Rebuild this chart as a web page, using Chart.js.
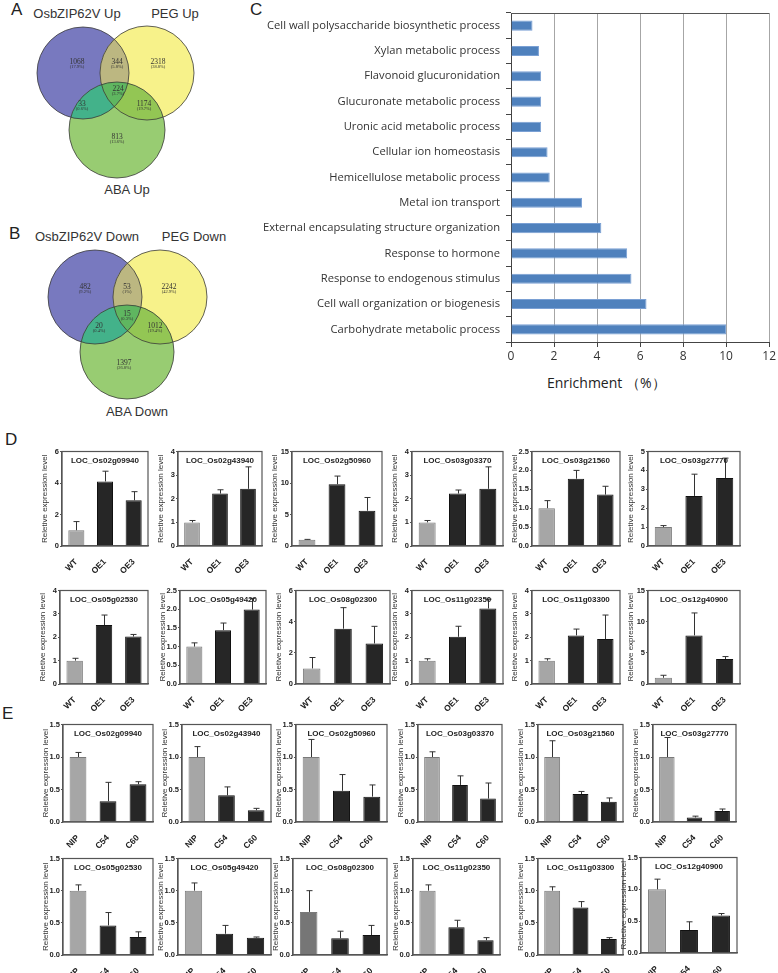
<!DOCTYPE html>
<html>
<head>
<meta charset="utf-8">
<script src="https://cdn.jsdelivr.net/npm/chart.js@4.4.1/dist/chart.umd.min.js"></script>
<style>
  html, body { margin: 0; padding: 0; background: #fff; }
  #page { position: relative; width: 778px; height: 973px; overflow: hidden; font-family: 'Liberation Sans', Arial, sans-serif; }
  canvas { position: absolute; }
  .lbl { position: absolute; white-space: nowrap; color: #333; }
  .big { font-size: 17px; color: #222; }
  .vt { font-size: 13px; transform: translateX(-50%); }
</style>
</head>
<body>
<div id="page">
  <div class="lbl big" style="left:11px;top:0px;">A</div>
  <div class="lbl big" style="left:9px;top:224px;">B</div>
  <div class="lbl big" style="left:250px;top:0px;">C</div>
  <div class="lbl big" style="left:5px;top:430px;">D</div>
  <div class="lbl big" style="left:2px;top:704px;">E</div>

  <div class="lbl vt" style="left:77px;top:6px;">OsbZIP62V Up</div>
  <div class="lbl vt" style="left:175px;top:6px;">PEG Up</div>
  <div class="lbl vt" style="left:127px;top:182px;">ABA Up</div>
  <div class="lbl vt" style="left:87px;top:229px;">OsbZIP62V Down</div>
  <div class="lbl vt" style="left:194px;top:229px;">PEG Down</div>
  <div class="lbl vt" style="left:137px;top:404px;">ABA Down</div>

  <div class="lbl" style="left:547px;top:373px;font-size:14px;font-family:'Open Sans',sans-serif;color:#222;">Enrichment （%）</div>
</div>

<script>
// ---- Venn counts (A: up-regulated, B: down-regulated) ----
// region order: P only, P&Y, Y only, P&Y&G, P&G, Y&G, G only
const vennUpCounts = [1068, 344, 2318, 224, 33, 1174, 813];
const vennUpPct = ['(17.9%)', '(5.8%)', '(38.8%)', '(3.7%)', '(0.6%)', '(19.7%)', '(13.6%)'];
const vennDownCounts = [482, 53, 2242, 15, 20, 1012, 1397];
const vennDownPct = ['(9.2%)', '(1%)', '(42.9%)', '(0.3%)', '(0.4%)', '(19.4%)', '(26.8%)'];

// ---- GO enrichment (C) ----
const goTerms = [
  'Cell wall polysaccharide biosynthetic process',
  'Xylan metabolic process',
  'Flavonoid glucuronidation',
  'Glucuronate metabolic process',
  'Uronic acid metabolic process',
  'Cellular ion homeostasis',
  'Hemicellulose metabolic process',
  'Metal ion transport',
  'External encapsulating structure organization',
  'Response to hormone',
  'Response to endogenous stimulus',
  'Cell wall organization or biogenesis',
  'Carbohydrate metabolic process'
];
const goEnrichment = [1.0, 1.3, 1.4, 1.4, 1.4, 1.7, 1.8, 3.3, 4.2, 5.4, 5.6, 6.3, 10.0];
const goTicks = [0, 12, 2];

// ---- qRT-PCR (D: overexpression lines) ----
const dGenes = ['LOC_Os02g09940', 'LOC_Os02g43940', 'LOC_Os02g50960', 'LOC_Os03g03370', 'LOC_Os03g21560', 'LOC_Os03g27770',
                'LOC_Os05g02530', 'LOC_Os05g49420', 'LOC_Os08g02300', 'LOC_Os11g02350', 'LOC_Os11g03300', 'LOC_Os12g40900'];
const dLines = ['WT', 'OE1', 'OE3'];
const dMeans = [[1.0, 4.1, 2.9], [1.0, 2.22, 2.42], [1.0, 9.8, 5.6], [1.0, 2.22, 2.42], [1.0, 1.78, 1.36], [1.0, 2.65, 3.6],
                [1.0, 2.52, 2.03], [1.0, 1.44, 1.99], [1.0, 3.55, 2.6], [1.0, 2.02, 3.23], [1.0, 2.08, 1.92], [1.0, 7.8, 4.0]];
const dErr = [[0.55, 0.65, 0.55], [0.08, 0.16, 0.93], [0.05, 1.3, 2.1], [0.08, 0.15, 0.93], [0.2, 0.22, 0.22], [0.08, 1.15, 1.05],
              [0.1, 0.43, 0.09], [0.1, 0.19, 0.3], [0.7, 1.35, 1.1], [0.08, 0.45, 0.4], [0.08, 0.27, 1.03], [0.4, 3.6, 0.4]];
const dYMax = [6, 4, 15, 4, 2.5, 5, 4, 2.5, 6, 4, 4, 15];
const dYStep = [2, 1, 5, 1, 0.5, 1, 1, 0.5, 2, 1, 1, 5];

// ---- qRT-PCR (E: mutant lines) ----
const eGenes = dGenes;
const eLines = ['NIP', 'C54', 'C60'];
const eMeans = [[1.0, 0.32, 0.58], [1.0, 0.41, 0.18], [1.0, 0.48, 0.39], [1.0, 0.57, 0.36], [1.0, 0.43, 0.31], [1.0, 0.07, 0.17],
                [1.0, 0.46, 0.28], [1.0, 0.33, 0.27], [0.67, 0.26, 0.31], [1.0, 0.43, 0.23], [1.0, 0.74, 0.25], [1.0, 0.36, 0.59]];
const eErr = [[0.07, 0.29, 0.04], [0.16, 0.13, 0.03], [0.27, 0.25, 0.18], [0.08, 0.14, 0.24], [0.25, 0.04, 0.06], [0.3, 0.02, 0.03],
              [0.09, 0.2, 0.08], [0.12, 0.13, 0.01], [0.33, 0.11, 0.15], [0.09, 0.11, 0.04], [0.06, 0.09, 0.02], [0.16, 0.13, 0.03]];
const eYMax = 1.5;
const eYStep = 0.5;

// ---- layout (page pixels) ----
const vennUpLayout = {
  circles: [[83, 73, 46], [147, 73, 47], [117, 130, 48]],
  spots: [[77, 62], [117, 62], [158, 62], [118, 89], [82, 104], [144, 104], [117, 137]]
};
const vennDownLayout = {
  circles: [[95, 297, 47], [160, 297, 47], [127, 352, 47]],
  spots: [[85, 287], [127, 287], [169, 287], [127, 314], [99, 326], [155, 326], [124, 363]]
};
const dBoxes = [[62, 451, 148, 546], [178, 451, 262, 546], [292, 451, 382, 546], [412, 451, 503, 546], [532, 451, 620, 546], [648, 451, 740, 546],
                [60, 590, 148, 684], [180, 590, 266, 684], [296, 590, 390, 684], [412, 590, 503, 684], [532, 590, 620, 684], [648, 590, 740, 684]];
const eBoxes = [[63, 724, 153, 822], [182, 724, 271, 822], [296, 724, 387, 822], [418, 724, 502, 822], [538, 724, 623, 822], [653, 724, 736, 822],
                [63, 858, 153, 955], [178, 858, 271, 955], [293, 858, 387, 955], [413, 858, 500, 955], [538, 858, 623, 955], [641, 857, 737, 953]];

Chart.defaults.font.family = "'Liberation Sans', Arial, sans-serif";
Chart.defaults.animation = false;

const page = document.getElementById('page');
function addCanvas(left, top, w, h) {
  const cv = document.createElement('canvas');
  cv.width = w; cv.height = h;
  cv.style.left = left + 'px'; cv.style.top = top + 'px';
  cv.style.width = w + 'px'; cv.style.height = h + 'px';
  page.appendChild(cv);
  return cv;
}

// ---------------- Venn ----------------
const regionColors = { p: '#7879bf', y: '#f7f28a', g: '#98cc72', py: '#bcb781', pg: '#43b28a', yg: '#93c654', pyg: '#5fb660' };

function vennPlugin(counts, pcts, layout) {
  return {
    id: 'venn',
    beforeDatasetsDraw(chart) {
      const ctx = chart.ctx, xs = chart.scales.x, ys = chart.scales.y;
      const path = c => {
        ctx.beginPath();
        ctx.arc(xs.getPixelForValue(c[0]), ys.getPixelForValue(c[1]),
                xs.getPixelForValue(c[0] + c[2]) - xs.getPixelForValue(c[0]), 0, Math.PI * 2);
      };
      const [P, Y, G] = layout.circles;
      ctx.save();
      [[P, 'p'], [Y, 'y'], [G, 'g']].forEach(([c, k]) => { path(c); ctx.fillStyle = regionColors[k]; ctx.fill(); });
      [[P, Y, 'py'], [P, G, 'pg'], [Y, G, 'yg']].forEach(([a, b, k]) => {
        ctx.save(); path(a); ctx.clip(); path(b); ctx.fillStyle = regionColors[k]; ctx.fill(); ctx.restore();
      });
      ctx.save(); path(P); ctx.clip(); path(Y); ctx.clip(); path(G); ctx.fillStyle = regionColors.pyg; ctx.fill(); ctx.restore();
      ctx.strokeStyle = '#3a3a3a'; ctx.lineWidth = 0.8;
      [P, Y, G].forEach(c => { path(c); ctx.stroke(); });
      ctx.restore();
    },
    afterDatasetsDraw(chart) {
      const ctx = chart.ctx;
      const pts = chart.getDatasetMeta(0).data;
      ctx.save();
      ctx.fillStyle = '#333'; ctx.textAlign = 'center'; ctx.textBaseline = 'middle';
      pts.forEach((pt, i) => {
        ctx.font = "7.5px 'Liberation Serif', serif";
        ctx.fillText(String(counts[i]), pt.x, pt.y);
        ctx.font = "4.5px 'Liberation Serif', serif";
        ctx.fillText(pcts[i], pt.x, pt.y + 5);
      });
      ctx.restore();
    }
  };
}

function makeVenn(top, h, counts, pcts, layout) {
  const cv = addCanvas(0, top, 250, h);
  new Chart(cv, {
    type: 'scatter',
    data: { datasets: [{ data: layout.spots.map(s => ({ x: s[0], y: s[1] })), pointRadius: 0 }] },
    options: {
      responsive: false,
      layout: { padding: 0 },
      plugins: { legend: { display: false }, tooltip: { enabled: false } },
      scales: {
        x: { type: 'linear', display: false, min: 0, max: 250 },
        y: { type: 'linear', display: false, min: top, max: top + h, reverse: true }
      }
    },
    plugins: [vennPlugin(counts, pcts, layout)]
  });
}
makeVenn(20, 165, vennUpCounts, vennUpPct, vennUpLayout);
makeVenn(245, 160, vennDownCounts, vennDownPct, vennDownLayout);

// ---------------- C: GO enrichment ----------------
(function() {
  const left = 250, top = 0, w = 528, h = 372;
  const plotL = 511, plotT = 13, plotR = 771, plotB = 342;
  const cv = addCanvas(left, top, w, h);
  const topLine = {
    id: 'topLine',
    afterDraw(chart) {
      const a = chart.chartArea, ctx = chart.ctx;
      ctx.save(); ctx.strokeStyle = '#555'; ctx.lineWidth = 1;
      ctx.beginPath(); ctx.moveTo(a.left, a.top + 0.5); ctx.lineTo(a.right, a.top + 0.5); ctx.stroke();
      ctx.restore();
    }
  };
  new Chart(cv, {
    type: 'bar',
    data: {
      labels: goTerms,
      datasets: [{
        data: goEnrichment,
        backgroundColor: '#4f81bd',
        borderColor: '#7aa0d4',
        borderWidth: 1,
        barPercentage: 0.4,
        categoryPercentage: 1
      }]
    },
    options: {
      responsive: false,
      indexAxis: 'y',
      layout: { padding: { left: 0, top: plotT - top, right: w - (plotR - left), bottom: 0 } },
      plugins: { legend: { display: false }, tooltip: { enabled: false } },
      scales: {
        x: {
          min: goTicks[0], max: goTicks[1],
          afterFit(s) { s.height = h - (plotB - top); },
          ticks: { stepSize: goTicks[2], color: '#333', font: { family: "'Open Sans', sans-serif", size: 12 }, padding: 2 },
          grid: { color: '#a6a6a6', tickColor: '#444', tickLength: 5, lineWidth: 1 },
          border: { color: '#444', width: 1 }
        },
        y: {
          afterFit(s) { s.width = plotL - left; },
          ticks: { color: '#333', font: { family: "'Open Sans', sans-serif", size: 11.2 }, padding: 6, autoSkip: false },
          grid: { offset: true, drawOnChartArea: false, tickLength: 5, color: '#444' },
          border: { color: '#444', width: 1 }
        }
      }
    },
    plugins: [topLine]
  });
})();

// ---------------- D / E: small bar charts ----------------
const errorBars = {
  id: 'errorBars',
  afterDatasetsDraw(chart) {
    const ctx = chart.ctx, ys = chart.scales.y;
    const ds = chart.data.datasets[0];
    const meta = chart.getDatasetMeta(0);
    ctx.save();
    ctx.strokeStyle = '#333'; ctx.lineWidth = 1;
    meta.data.forEach((bar, i) => {
      const yTop = ys.getPixelForValue(ds.data[i] + ds.errs[i]);
      const x = Math.round(bar.x) + 0.5;
      ctx.beginPath();
      ctx.moveTo(x, bar.y); ctx.lineTo(x, yTop);
      ctx.moveTo(x - 3, yTop); ctx.lineTo(x + 3, yTop);
      ctx.stroke();
    });
    ctx.restore();
  }
};
const frameAndName = {
  id: 'frameAndName',
  afterDraw(chart) {
    const a = chart.chartArea, ctx = chart.ctx;
    ctx.save();
    ctx.strokeStyle = '#555'; ctx.lineWidth = 1.2;
    ctx.strokeRect(a.left, a.top, a.right - a.left, a.bottom - a.top);
    ctx.fillStyle = '#222'; ctx.font = "bold 8px 'Liberation Sans', Arial, sans-serif";
    ctx.textAlign = 'center'; ctx.textBaseline = 'middle';
    ctx.fillText(chart.data.datasets[0].gene, (a.left + a.right) / 2, a.top + 9);
    ctx.restore();
  }
};

function makeSmall(box, gene, lines, means, errs, ymax, step, ctrlColor) {
  const yw = 22, xh = 30, pt = 5, pr = 4;
  const w = box[2] - box[0] + yw + pr, h = box[3] - box[1] + pt + xh;
  const cv = addCanvas(box[0] - yw, box[1] - pt, w, h);
  const decimals = step < 1;
  new Chart(cv, {
    type: 'bar',
    data: {
      labels: lines,
      datasets: [{
        data: means,
        errs: errs,
        gene: gene,
        backgroundColor: [ctrlColor, '#262626', '#262626'],
        borderColor: ['#7a7a7a', '#111', '#111'],
        borderWidth: 1,
        barPercentage: 0.56,
        categoryPercentage: 1
      }]
    },
    options: {
      responsive: false,
      layout: { padding: { left: 0, top: pt, right: pr, bottom: 0 } },
      plugins: { legend: { display: false }, tooltip: { enabled: false } },
      scales: {
        x: {
          afterFit(s) { s.height = xh; },
          grid: { display: false },
          border: { color: '#555', width: 1.2 },
          ticks: { minRotation: 45, maxRotation: 45, padding: 3, color: '#222', font: { size: 8.5, weight: 'bold' } }
        },
        y: {
          min: 0, max: ymax,
          afterFit(s) { s.width = yw; },
          ticks: { stepSize: step, padding: 1, color: '#222', font: { size: 7.5, weight: 'bold' },
                   callback: v => decimals ? v.toFixed(1) : String(v) },
          grid: { drawOnChartArea: false, tickLength: 2, color: '#555' },
          border: { color: '#555', width: 1.2 },
          title: { display: true, text: 'Reletive expression level', color: '#333', font: { size: 8 }, padding: 0 }
        }
      }
    },
    plugins: [errorBars, frameAndName]
  });
}

dGenes.forEach((g, i) => makeSmall(dBoxes[i], g, dLines, dMeans[i], dErr[i], dYMax[i], dYStep[i], '#a6a6a6'));
eGenes.forEach((g, i) => makeSmall(eBoxes[i], g, eLines, eMeans[i], eErr[i], eYMax, eYStep, i === 8 ? '#767676' : '#a6a6a6'));
</script>
</body>
</html>
